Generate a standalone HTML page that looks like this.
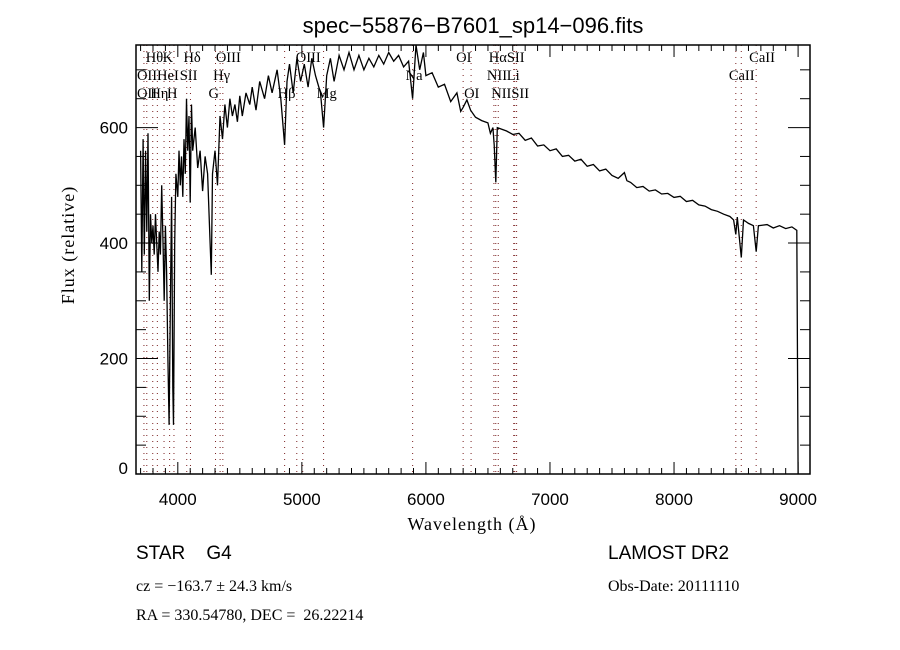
<!DOCTYPE html>
<html><head><meta charset="utf-8"><style>
body{margin:0;background:#fff;width:900px;height:650px;overflow:hidden}
svg{display:block}
.s{font-family:"Liberation Sans",sans-serif}
.r{font-family:"Liberation Serif",serif}
text{white-space:pre}
</style></head><body>
<svg id="c" width="900" height="650" xml:space="preserve">
<rect width="900" height="650" fill="#fff"/>
<text class="s" x="473" y="33" font-size="22" text-anchor="middle">spec−55876−B7601_sp14−096.fits</text>
<text class="r" x="472" y="530" font-size="18" text-anchor="middle" letter-spacing="1">Wavelength (Å)</text>
<text class="r" x="0" y="0" font-size="18" text-anchor="middle" letter-spacing="1" transform="translate(74,245) rotate(-90)">Flux (relative)</text>
<text class="s" x="136" y="559" font-size="19">STAR    G4</text>
<text class="r" x="136" y="591" font-size="16">cz = −163.7 ± 24.3 km/s</text>
<text class="r" x="136" y="620" font-size="16">RA = 330.54780, DEC =  26.22214</text>
<text class="s" x="608" y="559" font-size="19">LAMOST DR2</text>
<text class="r" x="608" y="591" font-size="16">Obs-Date: 20111110</text>
<g id="plot"></g>
</svg>
<script>
const wave=[3700,3710,3720,3730,3740,3750,3760,3770,3780,3790,3800,3810,3820,3830,3840,3850,3860,3870,3880,3890,3900,3910,3920,3930,3940,3950,3960,3965,3975,3985,4000,4010,4020,4030,4040,4050,4060,4070,4080,4090,4100,4110,4120,4140,4160,4180,4200,4220,4240,4260,4270,4280,4300,4320,4340,4360,4380,4400,4420,4440,4460,4480,4500,4520,4550,4580,4600,4630,4660,4700,4730,4760,4800,4830,4861,4880,4900,4930,4960,4990,5020,5050,5080,5110,5150,5175,5200,5230,5260,5300,5340,5380,5420,5460,5500,5540,5580,5620,5660,5700,5740,5780,5820,5860,5893,5920,5950,5980,6000,6050,6100,6150,6200,6250,6280,6300,6330,6360,6400,6450,6500,6520,6540,6550,6563,6575,6600,6650,6700,6750,6800,6850,6900,6950,7000,7050,7100,7150,7200,7250,7300,7350,7400,7450,7500,7550,7600,7620,7650,7700,7750,7800,7850,7900,7950,8000,8050,8100,8150,8200,8250,8300,8350,8400,8450,8480,8498,8510,8542,8560,8600,8640,8662,8680,8750,8800,8850,8900,8950,8990,9000];
const flux=[560,350,580,380,560,420,590,300,450,400,430,380,450,400,350,420,380,500,410,300,430,350,200,85,300,480,150,85,400,520,480,560,500,550,480,580,520,650,560,620,470,640,560,600,530,560,490,550,520,400,345,520,560,500,620,580,640,600,650,620,640,610,655,620,660,640,670,630,680,650,690,660,700,650,570,680,710,660,720,680,710,670,720,690,660,600,690,720,680,725,700,730,700,725,700,720,705,725,710,730,715,725,705,715,650,743,700,730,690,695,670,675,645,660,628,635,648,630,618,612,608,590,600,570,505,600,598,594,588,590,578,582,568,570,560,563,550,552,542,545,533,536,525,528,517,512,522,508,505,496,498,490,492,485,486,479,481,472,474,466,464,458,455,450,446,440,415,445,375,440,434,430,385,430,432,426,430,425,428,422,0];
const xTicks=[4000,5000,6000,7000,8000,9000];
const yTicks=[0,200,400,600];
const lineWaves=[3727,3750,3798,3835,3889,3934,3969,4072,4102,4304,4341,4363,4861,4959,5007,5175,5893,6300,6364,6548,6563,6583,6708,6716,6731,8498,8542,8662];
const lineLabels=[["Hθ",3798,1],["K",3934,1],["Hδ",4102,1],["OIII",4363,1],["OIII",5007,1],["OI",6300,1],["HαSII",6563,1],["CaII",8662,1],["OII",3727,2],["HeI",3889,2],["SII",4072,2],["Hγ",4341,2],["Na",5893,2],["NII",6548,2],["Li",6708,2],["CaII",8498,2],["OII",3727,3],["Hη",3835,3],["H",3969,3],["G",4304,3],["Hβ",4861,3],["Mg",5175,3],["OI",6364,3],["NIISII",6583,3]];
const X0=136,X1=810,Y0=474,Y1=45,W0=3663,W1=9096,F0=0,F1=743;
const xs=w=>X0+(w-W0)/(W1-W0)*(X1-X0);
const ys=f=>Y0-(f-F0)/(F1-F0)*(Y0-Y1);
const g=document.getElementById('plot');const NS='http://www.w3.org/2000/svg';
function mk(t,a){const e=document.createElementNS(NS,t);for(const k in a)e.setAttribute(k,a[k]);g.appendChild(e);return e;}
lineWaves.forEach(w=>{const e=mk('line',{x1:xs(w),x2:xs(w),y1:Y1,y2:Y0,stroke:'#7a2020','stroke-width':1,'stroke-dasharray':'1,5'});

});
const rowY=[0,62,80,98];
lineLabels.forEach(l=>{const t=mk('text',{x:xs(l[1])-7,y:rowY[l[2]],'font-size':14.5,'font-family':'Liberation Serif,serif'});t.textContent=l[0];

});
let d='';wave.forEach((w,i)=>{d+=(i?'L':'M')+xs(w).toFixed(1)+','+ys(flux[i]).toFixed(1);});
const p=mk('path',{d:d,fill:'none',stroke:'#000','stroke-width':1.3});


const fr=mk('rect',{x:X0,y:Y1,width:X1-X0,height:Y0-Y1,fill:'none',stroke:'#000','stroke-width':1.5});


for(let w=3700;w<=9096;w+=100){const maj=w%1000===0;const L=maj?12:6;
mk('line',{x1:xs(w),x2:xs(w),y1:Y0,y2:Y0-L,stroke:'#000'});mk('line',{x1:xs(w),x2:xs(w),y1:Y1,y2:Y1+L,stroke:'#000'});}
for(let f=0;f<=F1;f+=50){const maj=f%200===0;const L=maj?22:10;
mk('line',{x1:X0,x2:X0+L,y1:ys(f),y2:ys(f),stroke:'#000'});mk('line',{x1:X1,x2:X1-L,y1:ys(f),y2:ys(f),stroke:'#000'});}
xTicks.forEach(v=>{const t=mk('text',{x:xs(v),y:Y0+31,'font-size':17,'text-anchor':'middle','font-family':'Liberation Sans,sans-serif'});t.textContent=v;

});
yTicks.forEach(v=>{const t=mk('text',{x:X0-8,y:Math.min(ys(v)+6,Y0),'font-size':17,'text-anchor':'end','font-family':'Liberation Sans,sans-serif'});t.textContent=v;

});
</script>
</body></html>
